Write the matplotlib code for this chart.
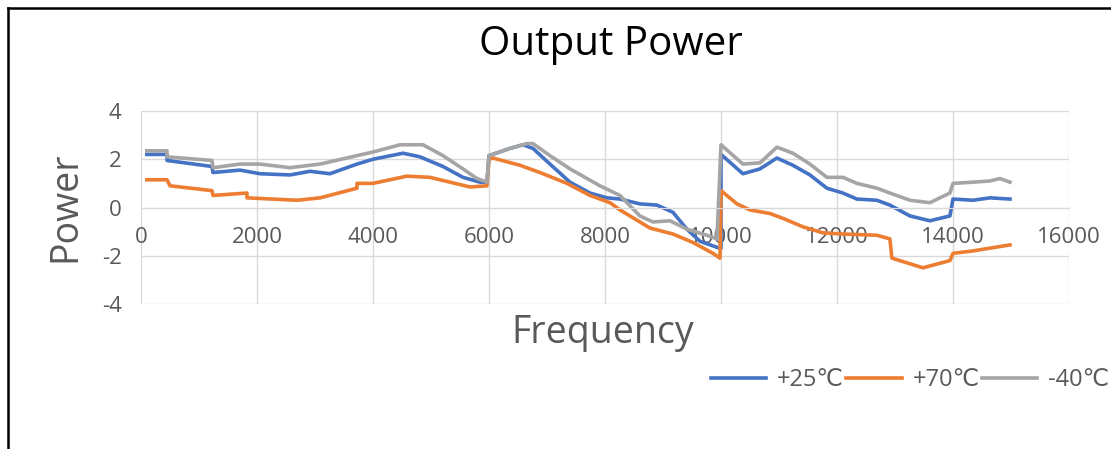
import matplotlib
matplotlib.use('Agg')
import matplotlib.pyplot as plt
from matplotlib.lines import Line2D

# Frequency / power readings (steps are encoded as repeated frequencies)
freq_25 = [100, 448, 448, 1224, 1241, 1707, 2052, 2569, 2914, 3258, 3724, 4000, 4517,
           4810, 5206, 5551, 5844, 5965, 6000, 6362, 6586, 6758, 7051, 7396, 7741,
           8034, 8258, 8602, 8896, 9172, 9413, 9637, 9930, 10000, 10000, 10378, 10672,
           10964, 11240, 11533, 11826, 12102, 12343, 12688, 12912, 13258, 13602, 13947,
           14000, 14344, 14637, 14982]
power_25 = [2.2, 2.2, 1.95, 1.7, 1.45, 1.55, 1.4, 1.35, 1.5, 1.4, 1.8, 2.0, 2.25,
            2.1, 1.7, 1.25, 1.05, 1.05, 2.15, 2.45, 2.6, 2.45, 1.8, 1.05, 0.6,
            0.4, 0.35, 0.15, 0.1, -0.2, -0.9, -1.4, -1.65, -1.7, 2.2, 1.4, 1.6,
            2.05, 1.75, 1.35, 0.8, 0.6, 0.35, 0.3, 0.1, -0.35, -0.55, -0.35,
            0.35, 0.3, 0.4, 0.35]

freq_70 = [100, 448, 500, 1224, 1241, 1827, 1827, 2690, 3086, 3724, 3724, 4000, 4586,
           4982, 5327, 5672, 5965, 6000, 6069, 6534, 6879, 7344, 7741, 8086, 8258,
           8774, 9172, 9517, 9861, 9982, 10000, 10275, 10499, 10844, 11068, 11413,
           11757, 12102, 12688, 12912, 12947, 13482, 13947, 14000, 14344, 14982]
power_70 = [1.15, 1.15, 0.9, 0.7, 0.5, 0.6, 0.4, 0.3, 0.4, 0.8, 1.0, 1.0, 1.3,
            1.25, 1.05, 0.85, 0.9, 2.0, 2.05, 1.75, 1.45, 1.0, 0.5, 0.2, -0.1,
            -0.85, -1.1, -1.45, -1.9, -2.1, 0.7, 0.15, -0.1, -0.25, -0.45, -0.8,
            -1.05, -1.1, -1.15, -1.3, -2.1, -2.5, -2.2, -1.9, -1.8, -1.55]

freq_m40 = [100, 448, 448, 1224, 1241, 1707, 2052, 2569, 2914, 3086, 3724, 4000, 4465,
            4862, 5206, 5551, 5793, 5965, 6000, 6362, 6655, 6758, 7051, 7396, 7913,
            8258, 8602, 8827, 9120, 9413, 9758, 9930, 10000, 10378, 10672, 10964,
            11240, 11533, 11826, 12102, 12343, 12688, 12912, 13258, 13602, 13947,
            14000, 14344, 14637, 14809, 14982]
power_m40 = [2.35, 2.35, 2.1, 1.95, 1.65, 1.8, 1.8, 1.65, 1.75, 1.8, 2.15, 2.3, 2.6,
             2.6, 2.15, 1.6, 1.2, 1.05, 2.15, 2.45, 2.65, 2.65, 2.15, 1.6, 0.9,
             0.5, -0.35, -0.6, -0.55, -0.9, -1.15, -1.3, 2.6, 1.8, 1.85, 2.5,
             2.25, 1.8, 1.25, 1.25, 1.0, 0.8, 0.6, 0.3, 0.2, 0.6,
             1.0, 1.05, 1.1, 1.2, 1.05]

labels = ['+25\u2103', '+70\u2103', '-40\u2103']
colors = ['#4472C4', '#ED7D31', '#A5A5A5']

FONT = ['Open Sans', 'DejaVu Sans']
GRAY_TXT = '#595959'

plt.rcParams['axes.unicode_minus'] = False

W, H = 1111, 449
fig = plt.figure(figsize=(W / 100, H / 100), dpi=100)

# axes box in pixels: x 141..1069, y 111..304
ax = fig.add_axes([141 / W, 1 - 304 / H, (1069 - 141) / W, (304 - 111) / H])

for f, p, lab, c in zip([freq_25, freq_70, freq_m40],
                        [power_25, power_70, power_m40], labels, colors):
    ax.plot(f, p, color=c, lw=2.6, label=lab, solid_joinstyle='round')

ax.set_xlim(0, 16000)
ax.set_ylim(-4, 4)
ax.set_xticks(range(0, 16001, 2000))
ax.set_yticks(range(-4, 5, 2))
ax.grid(True, color='#d9d9d9', lw=1)
ax.set_axisbelow(True)
for s in ['top', 'right', 'left']:
    ax.spines[s].set_visible(False)
ax.spines['bottom'].set_position(('data', 0))
ax.spines['bottom'].set_color('#d9d9d9')
ax.tick_params(length=0, labelcolor=GRAY_TXT, labelsize=16)
ax.tick_params(axis='x', pad=14)
ax.tick_params(axis='y', pad=14)
for t in ax.get_xticklabels() + ax.get_yticklabels():
    t.set_family(FONT)

fig.text(611 / W, 1 - 45 / H, 'Output Power', ha='center', va='center',
         fontsize=29, family=FONT, color='black')
fig.text(65 / W, 1 - 207 / H, 'Power', rotation=90, ha='center', va='center',
         fontsize=27, family=FONT, color=GRAY_TXT)
fig.text(603 / W, 1 - 333 / H, 'Frequency', ha='center', va='center',
         fontsize=27, family=FONT, color=GRAY_TXT)

handles = [Line2D([], [], color=c, lw=2.6) for c in colors]
fig.legend(handles, labels, loc='center left', bbox_to_anchor=(711 / W, 1 - 380 / H),
           ncol=3, frameon=False, handlelength=2.35, handletextpad=0.45,
           columnspacing=0.1, borderaxespad=0, borderpad=0,
           prop={'family': FONT, 'size': 17}, labelcolor=GRAY_TXT)

# black frame on left and top edges
fig.add_artist(Line2D([8 / W, 8 / W], [0, 1 - 8 / H], color='black', lw=1.8,
                      transform=fig.transFigure))
fig.add_artist(Line2D([8 / W, 1], [1 - 8 / H, 1 - 8 / H], color='black', lw=1.8,
                      transform=fig.transFigure))

fig.savefig('out.png', dpi=100)
